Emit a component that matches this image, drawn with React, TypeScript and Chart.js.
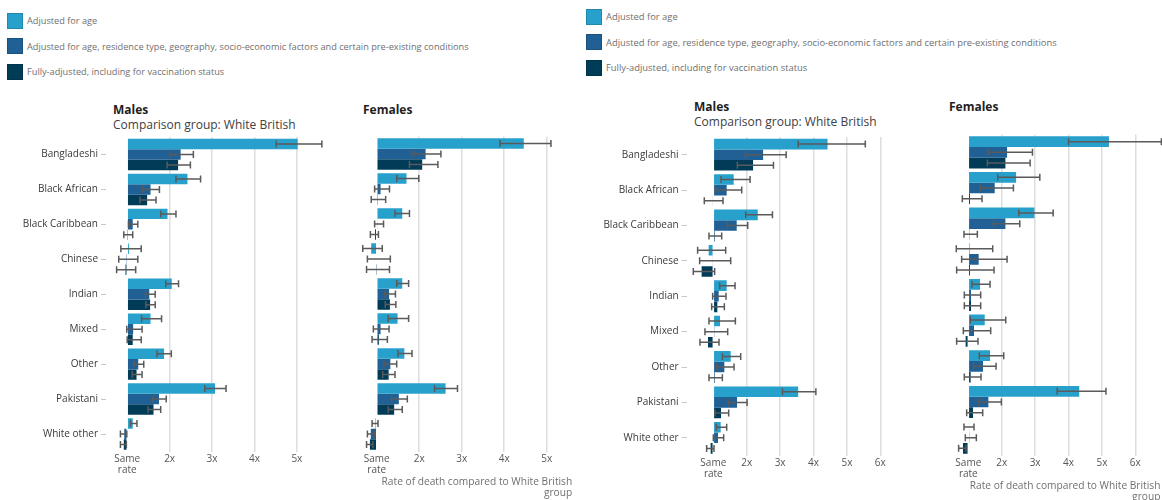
import React, { useEffect, useRef } from "react";
import { Chart, registerables } from "chart.js";

Chart.register(...registerables);

const FONT = "'Open Sans', sans-serif";

const categories = [
  "Bangladeshi",
  "Black African",
  "Black Caribbean",
  "Chinese",
  "Indian",
  "Mixed",
  "Other",
  "Pakistani",
  "White other",
];

const seriesNames = [
  "Adjusted for age",
  "Adjusted for age, residence type, geography, socio-economic factors and certain pre-existing conditions",
  "Fully-adjusted, including for vaccination status",
];
const seriesColors = ["#27a0cc", "#206095", "#003c57"];

const ticksA = [1, 2, 3, 4, 5];
const ticksB = [1, 2, 3, 4, 5, 6];
const xTitleLines = ["Rate of death compared to White British", "group"];

// ---------- Period A (left picture) : Males ----------
const aMaleAge = [5.02, 2.42, 1.95, 1.04, 2.05, 1.55, 1.87, 3.07, 1.13];
const aMaleAgeLow = [4.51, 2.15, 1.79, 0.85, 1.91, 1.34, 1.7, 2.83, 1.08];
const aMaleAgeHigh = [5.59, 2.73, 2.15, 1.33, 2.21, 1.81, 2.04, 3.33, 1.23];
const aMaleMid = [2.26, 1.55, 1.13, 0.99, 1.52, 1.14, 1.26, 1.75, 0.93];
const aMaleMidLow = [2.01, 1.36, 1.03, 0.8, 1.43, 0.99, 1.16, 1.6, 0.84];
const aMaleMidHigh = [2.56, 1.76, 1.25, 1.25, 1.66, 1.35, 1.39, 1.92, 0.99];
const aMaleFull = [2.2, 1.47, 1.01, 0.96, 1.54, 1.13, 1.22, 1.62, 0.92];
const aMaleFullLow = [1.94, 1.3, 0.92, 0.75, 1.44, 1.0, 1.12, 1.49, 0.84];
const aMaleFullHigh = [2.49, 1.68, 1.13, 1.2, 1.66, 1.33, 1.35, 1.79, 0.98];

// ---------- Period A (left picture) : Females ----------
const aFemaleAge = [4.46, 1.7, 1.6, 0.87, 1.6, 1.49, 1.65, 2.62, 0.97];
const aFemaleAgeLow = [3.9, 1.47, 1.43, 0.67, 1.47, 1.27, 1.5, 2.36, 0.89];
const aFemaleAgeHigh = [5.1, 1.99, 1.77, 1.13, 1.75, 1.75, 1.83, 2.9, 1.03];
const aFemaleMid = [2.15, 1.09, 1.02, 1.0, 1.29, 1.09, 1.32, 1.52, 0.86];
const aFemaleMidLow = [1.83, 0.95, 0.95, 0.78, 1.19, 0.92, 1.17, 1.35, 0.78];
const aFemaleMidHigh = [2.51, 1.3, 1.16, 1.32, 1.44, 1.29, 1.47, 1.72, 0.95];
const aFemaleFull = [2.07, 1.01, 0.96, 0.99, 1.31, 1.05, 1.28, 1.41, 0.84];
const aFemaleFullLow = [1.77, 0.87, 0.85, 0.76, 1.2, 0.89, 1.14, 1.27, 0.76];
const aFemaleFullHigh = [2.44, 1.21, 1.04, 1.3, 1.45, 1.25, 1.43, 1.6, 0.91];

// ---------- Period B (right picture) : Males ----------
const bMaleAge = [4.42, 1.61, 2.33, 0.86, 1.4, 1.2, 1.52, 3.54, 1.22];
const bMaleAgeLow = [3.54, 1.23, 1.97, 0.53, 1.19, 0.87, 1.27, 3.07, 1.09];
const bMaleAgeHigh = [5.55, 2.1, 2.77, 1.37, 1.65, 1.66, 1.82, 4.07, 1.4];
const bMaleMid = [2.49, 1.4, 1.7, 0.98, 1.16, 1.03, 1.33, 1.71, 1.14];
const bMaleMidLow = [1.96, 1.06, 1.42, 0.59, 0.98, 0.75, 1.1, 1.45, 1.0];
const bMaleMidHigh = [3.18, 1.85, 2.03, 1.52, 1.38, 1.43, 1.62, 2.01, 1.31];
const bMaleFull = [2.19, 0.98, 1.04, 0.65, 1.12, 0.84, 1.04, 1.23, 0.92];
const bMaleFullLow = [1.72, 0.73, 0.87, 0.4, 0.95, 0.6, 0.87, 1.05, 0.8];
const bMaleFullHigh = [2.8, 1.29, 1.25, 1.04, 1.33, 1.17, 1.27, 1.46, 1.02];

// ---------- Period B (right picture) : Females ----------
const bFemaleAge = [5.21, 2.43, 2.98, 1.04, 1.35, 1.49, 1.65, 4.32, 1.02];
const bFemaleAgeLow = [4.0, 1.88, 2.51, 0.64, 1.11, 1.06, 1.33, 3.66, 0.87];
const bFemaleAgeHigh = [6.78, 3.14, 3.54, 1.73, 1.65, 2.12, 2.06, 5.12, 1.17];
const bFemaleMid = [2.16, 1.79, 2.11, 1.31, 1.08, 1.17, 1.44, 1.6, 1.03];
const bFemaleMidLow = [1.6, 1.36, 1.75, 0.8, 0.88, 0.85, 1.16, 1.31, 0.91];
const bFemaleMidHigh = [2.92, 2.35, 2.54, 2.16, 1.37, 1.67, 1.83, 1.99, 1.24];
const bFemaleFull = [2.11, 1.05, 1.03, 1.05, 1.08, 0.92, 1.07, 1.14, 0.84];
const bFemaleFullLow = [1.57, 0.82, 0.87, 0.65, 0.88, 0.65, 0.88, 0.95, 0.71];
const bFemaleFullHigh = [2.85, 1.41, 1.27, 1.77, 1.37, 1.29, 1.38, 1.43, 0.93];

type Series = { values: number[]; low: number[]; high: number[] };

const panelsData: Record<string, Series[]> = {
  aMale: [
    { values: aMaleAge, low: aMaleAgeLow, high: aMaleAgeHigh },
    { values: aMaleMid, low: aMaleMidLow, high: aMaleMidHigh },
    { values: aMaleFull, low: aMaleFullLow, high: aMaleFullHigh },
  ],
  aFemale: [
    { values: aFemaleAge, low: aFemaleAgeLow, high: aFemaleAgeHigh },
    { values: aFemaleMid, low: aFemaleMidLow, high: aFemaleMidHigh },
    { values: aFemaleFull, low: aFemaleFullLow, high: aFemaleFullHigh },
  ],
  bMale: [
    { values: bMaleAge, low: bMaleAgeLow, high: bMaleAgeHigh },
    { values: bMaleMid, low: bMaleMidLow, high: bMaleMidHigh },
    { values: bMaleFull, low: bMaleFullLow, high: bMaleFullHigh },
  ],
  bFemale: [
    { values: bFemaleAge, low: bFemaleAgeLow, high: bFemaleAgeHigh },
    { values: bFemaleMid, low: bFemaleMidLow, high: bFemaleMidHigh },
    { values: bFemaleFull, low: bFemaleFullLow, high: bFemaleFullHigh },
  ],
};

const errorBarPlugin = {
  id: "errorBars",
  afterDatasetsDraw(chart: any) {
    const ctx = chart.ctx;
    const xScale = chart.scales.x;
    ctx.save();
    ctx.strokeStyle = "#5a5a5a";
    ctx.lineWidth = 1.5;
    chart.data.datasets.forEach((ds: any, i: number) => {
      const meta = chart.getDatasetMeta(i);
      meta.data.forEach((el: any, j: number) => {
        const y = el.y;
        const x1 = xScale.getPixelForValue(ds.errLow[j]);
        const x2 = xScale.getPixelForValue(ds.errHigh[j]);
        ctx.beginPath();
        ctx.moveTo(x1, y);
        ctx.lineTo(x2, y);
        ctx.moveTo(x1, y - 3.5);
        ctx.lineTo(x1, y + 3.5);
        ctx.moveTo(x2, y - 3.5);
        ctx.lineTo(x2, y + 3.5);
        ctx.stroke();
      });
    });
    ctx.restore();
  },
};

type Layout = {
  left: number;
  top: number;
  width: number;
  height: number;
  yWidth: number;
  padL: number;
  padR: number;
  padT: number;
  xHeight: number;
  titleBottom: number;
};

function Panel(props: {
  series: Series[];
  layout: Layout;
  showLabels: boolean;
  showXTitle: boolean;
  ticks: number[];
  min: number;
  max: number;
}) {
  const ref = useRef<HTMLCanvasElement>(null);
  const { series, layout, showLabels, showXTitle, ticks, min, max } = props;
  useEffect(() => {
    if (!ref.current) return;
    const chart = new Chart(ref.current, {
      type: "bar",
      data: {
        labels: categories,
        datasets: series.map((s, i) => ({
          label: seriesNames[i],
          data: s.values,
          errLow: s.low,
          errHigh: s.high,
          base: 1,
          backgroundColor: seriesColors[i],
          borderWidth: 0,
          barPercentage: 1,
          categoryPercentage: 0.9,
        })) as any,
      },
      options: {
        indexAxis: "y",
        animation: false,
        responsive: false,
        maintainAspectRatio: false,
        layout: {
          padding: {
            left: layout.padL,
            right: layout.padR,
            top: layout.padT,
            bottom: 0,
          },
        },
        plugins: {
          legend: { display: false },
          tooltip: { enabled: false },
          title: { display: false },
        },
        scales: {
          x: {
            type: "linear",
            min,
            max,
            afterBuildTicks: (axis: any) => {
              axis.ticks = ticks.map((v) => ({ value: v }));
            },
            afterFit: (axis: any) => {
              axis.height = layout.xHeight;
            },
            border: { display: false },
            grid: {
              color: (c: any) =>
                c.tick && c.tick.value === 1 ? "rgba(0,0,0,0)" : "#dddddd",
              lineWidth: 1.5,
              drawTicks: false,
            },
            ticks: {
              autoSkip: false,
              maxRotation: 0,
              padding: 2,
              color: "#555555",
              font: { family: FONT, size: 10, lineHeight: 1.12 },
              callback: (v: any) => (v === 1 ? ["Same", "rate"] : v + "x"),
            },
            title: {
              display: showXTitle,
              text: xTitleLines,
              align: "end",
              color: "#707070",
              font: { family: FONT, size: 10.2, lineHeight: 1.08 },
              padding: { top: 0, bottom: layout.titleBottom },
            },
          },
          y: {
            type: "category",
            display: showLabels,
            offset: true,
            afterFit: (axis: any) => {
              axis.width = layout.yWidth;
            },
            border: { display: false },
            grid: {
              offset: false,
              drawOnChartArea: false,
              drawTicks: true,
              tickLength: 5,
              color: "#c8c8c8",
              lineWidth: 1,
            },
            ticks: {
              padding: 3,
              color: "#3a3a3a",
              font: { family: FONT, size: 10 },
            },
          },
        },
      } as any,
      plugins: [errorBarPlugin],
    });
    return () => chart.destroy();
  }, []);
  return (
    <canvas
      ref={ref}
      width={layout.width}
      height={layout.height}
      style={{
        position: "absolute",
        left: layout.left,
        top: layout.top,
        width: layout.width,
        height: layout.height,
      }}
    />
  );
}

function Legend(props: { left: number; top: number; textLeft: number; gap: number; size: number }) {
  return (
    <div style={{ position: "absolute", left: props.left, top: props.top }}>
      {seriesNames.map((name, i) => (
        <div
          key={name}
          style={{
            position: "absolute",
            left: 0,
            top: i * props.gap,
            height: 16,
            display: "flex",
            alignItems: "center",
            whiteSpace: "nowrap",
          }}
        >
          <div
            style={{
              width: 16,
              height: 16,
              background: seriesColors[i],
              boxShadow: "inset 0 0 0 1px rgba(0,0,0,0.15)",
            }}
          />
          <span
            style={{
              marginLeft: props.textLeft,
              fontFamily: FONT,
              fontSize: props.size,
              color: "#6f6f6f",
            }}
          >
            {name}
          </span>
        </div>
      ))}
    </div>
  );
}

function Text(props: { x: number; y: number; size: number; bold?: boolean; color: string; children: any }) {
  return (
    <div
      style={{
        position: "absolute",
        left: props.x,
        top: props.y,
        fontFamily: FONT,
        fontSize: props.size,
        fontWeight: props.bold ? 700 : 400,
        color: props.color,
        lineHeight: "16px",
        whiteSpace: "nowrap",
      }}
    >
      {props.children}
    </div>
  );
}

const layoutAMale: Layout = { left: 0, top: 128, width: 335, height: 372, yWidth: 106, padL: 0, padR: 12.7, padT: 8.5, xHeight: 48.5, titleBottom: 1.8 };
const layoutAFemale: Layout = { left: 340, top: 128, width: 240, height: 372, yWidth: 0, padL: 15.5, padR: 7.8, padT: 8.5, xHeight: 48.5, titleBottom: 1.8 };
const layoutBMale: Layout = { left: 583, top: 128, width: 330, height: 372, yWidth: 103.6, padL: 0, padR: 7.6, padT: 6.5, xHeight: 44.5, titleBottom: 1.8 };
const layoutBFemale: Layout = { left: 913, top: 128, width: 249, height: 380, yWidth: 0, padL: 28.6, padR: 1.6, padT: 6.5, xHeight: 52.5, titleBottom: 5.5 };

export default function App() {
  return (
    <div
      style={{
        position: "absolute",
        left: 0,
        top: 0,
        width: 1162,
        height: 500,
        overflow: "hidden",
        background: "#ffffff",
      }}
    >
      <Legend left={7} top={12.5} textLeft={4} gap={25.5} size={9.2} />
      <Legend left={586} top={8.5} textLeft={4} gap={25.7} size={9.4} />

      <Text x={113} y={102} size={12} bold color="#1f1f1f">Males</Text>
      <Text x={113} y={117} size={12} color="#414042">Comparison group: White British</Text>
      <Text x={363} y={102} size={12} bold color="#1f1f1f">Females</Text>

      <Text x={694} y={99} size={12} bold color="#1f1f1f">Males</Text>
      <Text x={694} y={114} size={12} color="#414042">Comparison group: White British</Text>
      <Text x={949} y={99} size={12} bold color="#1f1f1f">Females</Text>

      <Panel series={panelsData.aMale} layout={layoutAMale} showLabels showXTitle={false} ticks={ticksA} min={0.5} max={5.6} />
      <Panel series={panelsData.aFemale} layout={layoutAFemale} showLabels={false} showXTitle ticks={ticksA} min={0.5} max={5.6} />
      <Panel series={panelsData.bMale} layout={layoutBMale} showLabels showXTitle={false} ticks={ticksB} min={0.2} max={6.75} />
      <Panel series={panelsData.bFemale} layout={layoutBFemale} showLabels={false} showXTitle ticks={ticksB} min={0.2} max={6.75} />
    </div>
  );
}
